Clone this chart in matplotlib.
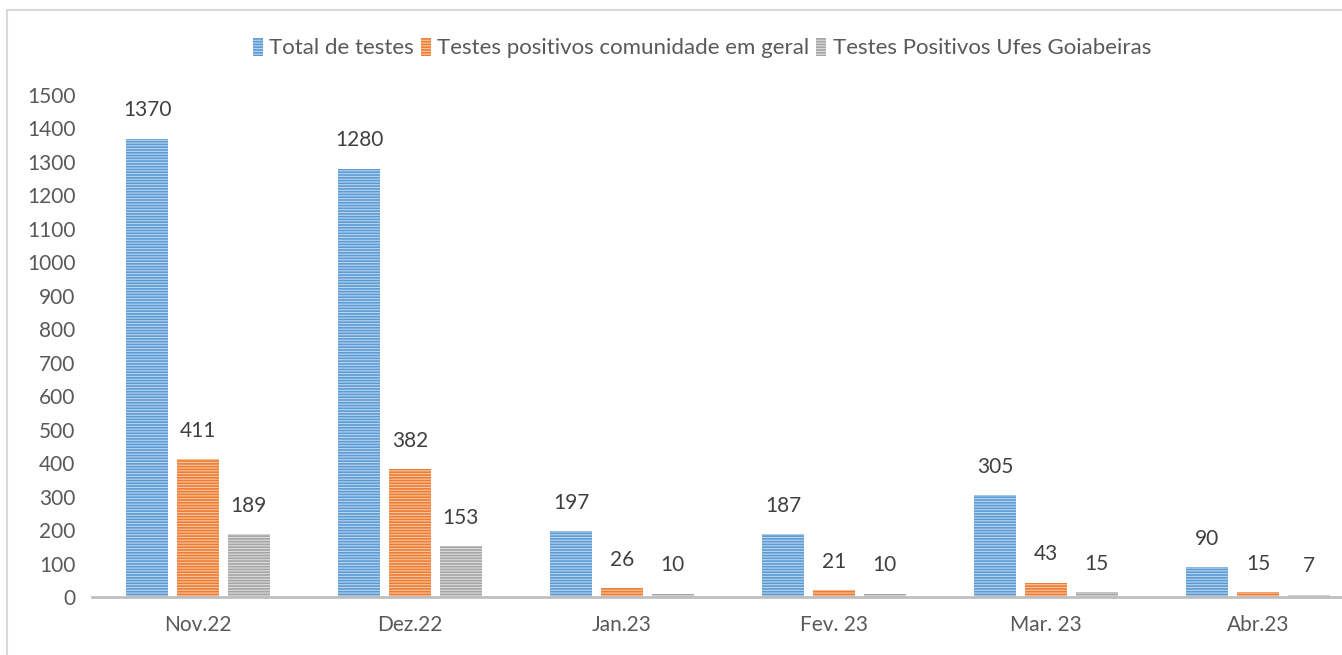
import matplotlib
matplotlib.use('Agg')
import matplotlib.pyplot as plt
import numpy as np
from matplotlib.patches import Rectangle

# ── Data ─────────────────────────────────────────────────────────────────────
months   = ['Nov.22', 'Dez.22', 'Jan.23', 'Fev. 23', 'Mar. 23', 'Abr.23']
total    = [1370, 1280, 197, 187, 305, 90]
pos_com  = [411, 382, 26, 21, 43, 15]
pos_ufes = [189, 153, 10, 10, 15, 7]

series = [
    ('Total de testes', total, '#5b9bd5', '#bcd5ee'),
    ('Testes positivos comunidade em geral', pos_com, '#ed7d31', '#f8c7a6'),
    ('Testes Positivos Ufes Goiabeiras', pos_ufes, '#a5a5a5', '#dedede'),
]

plt.rcParams['font.family'] = ['Lato', 'DejaVu Sans']
plt.rcParams['hatch.linewidth'] = 0.8

W, H = 1342, 655
fig = plt.figure(figsize=(W / 100, H / 100), dpi=100)

# chart is cropped on the right: axes run past the figure edge
ax = fig.add_axes([92 / W, 58 / H, 1272 / W, 502 / H])

# outer chart border (light grey, cut off on right/bottom)
fig.patches.append(Rectangle((7 / W, -0.1), 1.2, (H - 10) / H + 0.1,
                             transform=fig.transFigure, fill=False,
                             edgecolor='#d9d9d9', linewidth=1.5))

x = np.arange(len(months))
offs = [-0.24, 0.0, 0.24]
width = 0.198
text_col = '#404040'

for (label, vals, face, stripe), off in zip(series, offs):
    ax.bar(x + off, vals, width, facecolor=face, edgecolor=stripe,
           linewidth=0, hatch='------', label=label, zorder=2)
    for xi, v in zip(x + off, vals):
        ax.annotate(str(v), (xi, v), xytext=(0, 16), textcoords='offset points',
                    ha='center', va='baseline', fontsize=15, color=text_col)

ax.set_xlim(-0.5, len(months) - 0.5)
ax.set_ylim(0, 1500)
ax.set_yticks(range(0, 1501, 100))
ax.set_xticks(x)
ax.set_xticklabels(months)

for s in ('top', 'right', 'left'):
    ax.spines[s].set_visible(False)
ax.spines['bottom'].set_color('#bfbfbf')
ax.spines['bottom'].set_linewidth(2.0)
ax.spines['bottom'].set_zorder(3)

ax.tick_params(axis='both', length=0, labelsize=15, labelcolor='#595959')
ax.tick_params(axis='x', pad=13)
ax.tick_params(axis='y', pad=12)

leg = fig.legend(loc='center', bbox_to_anchor=(702 / W, 1 - 48 / H), ncol=3,
                 frameon=False, fontsize=16, handlelength=0.45, handleheight=0.9,
                 handletextpad=0.3, columnspacing=0.3, labelcolor='#595959')

fig.savefig('out.png', dpi=100)
